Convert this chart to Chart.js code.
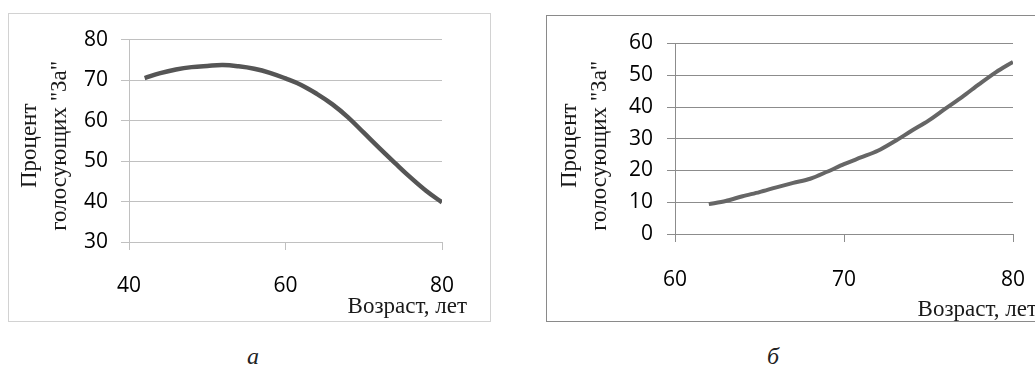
<!DOCTYPE html>
<html><head><meta charset="utf-8">
<script src="https://cdn.jsdelivr.net/npm/chart.js@4.4.0/dist/chart.umd.min.js"></script>
<style>
html,body{margin:0;padding:0;background:#fff;}
body{width:1035px;height:365px;overflow:hidden;position:relative;}
.box{position:absolute;box-sizing:border-box;background:#fff;}
#boxA{left:8px;top:13px;width:483px;height:309px;border:1px solid #d2d2d2;}
#boxB{left:546px;top:15px;width:510px;height:307px;border:1px solid #8a8a8a;}
.box canvas{position:absolute;left:0;top:0;}
.cap{position:absolute;top:344px;width:40px;text-align:center;font:italic 24px "Liberation Serif",serif;line-height:24px;color:#222;}
</style></head>
<body>
<div class="box" id="boxA"><canvas id="cA" width="481" height="307"></canvas></div>
<div class="box" id="boxB"><canvas id="cB" width="508" height="305"></canvas></div>
<div class="cap" style="left:233px">а</div>
<div class="cap" style="left:753px">б</div>
<script>
// ---- data (chart а) ----
const ageA = [42,44,46,48,50,52,54,56,58,60,62,64,66,68,70,72,74,76,78,80];
const pctA = [70.5,71.7,72.6,73.2,73.5,73.7,73.4,72.8,71.8,70.4,68.8,66.6,64.0,60.8,57.0,53.2,49.5,45.9,42.6,39.8];
const xTicksA = [40,60,80];
const yTicksA = [30,40,50,60,70,80];
// ---- data (chart б) ----
const ageB = [62,63,64,65,66,67,68,69,70,71,72,73,74,75,76,77,78,79,80];
const pctB = [9.4,10.4,11.9,13.2,14.7,16.1,17.4,19.6,22.0,24.1,26.2,29.2,32.5,35.7,39.5,43.2,47.2,51.0,54.2];
const xTicksB = [60,70,80];
const yTicksB = [0,10,20,30,40,50,60];
// ---- texts ----
const yTitle = ['Процент', 'голосующих "За"'];
const xTitleA = 'Возраст, лет';
const xTitleB = 'Возраст, лет';

const SERIF_CSS = '"Liberation Serif", "Times New Roman", serif';

// Axis titles drawn next to the library's own scales
const axisTitlePlugin = {
  id: 'axisTitles',
  afterDraw(chart, args, o) {
    const ctx = chart.ctx, sx = chart.scales.x, sy = chart.scales.y;
    ctx.save();
    ctx.font = o.size + 'px ' + SERIF_CSS;
    ctx.fillStyle = o.color;
    ctx.textAlign = 'right'; ctx.textBaseline = 'alphabetic';
    ctx.fillText(o.xText, sx.right + o.xDx, sx.bottom - o.xDy);
    const cy = (sy.top + sy.bottom) / 2 + o.yDy;
    ctx.textAlign = 'center'; ctx.textBaseline = 'middle';
    o.yText.forEach((line, i) => {
      ctx.save();
      ctx.translate(sy.left + o.yX + i * o.yLine, cy);
      ctx.rotate(-Math.PI / 2);
      ctx.fillText(line, 0, 0);
      ctx.restore();
    });
    ctx.restore();
  }
};

function makeChart(id, ages, vals, xt, yt, cfg) {
  const tickFont = {family: 'Open Sans', size: 21};
  return new Chart(document.getElementById(id), {
    type: 'line',
    data: { datasets: [{
      data: ages.map((a, i) => ({x: a, y: vals[i]})),
      borderColor: cfg.lineColor, borderWidth: cfg.lineWidth,
      pointRadius: 0, tension: cfg.tension, fill: false, borderCapStyle: 'butt'
    }]},
    options: {
      responsive: false, animation: false, events: [],
      layout: {padding: {left: 0, top: cfg.padTop, right: cfg.padRight, bottom: 0}},
      plugins: {legend: {display: false}, tooltip: {enabled: false},
        axisTitles: {xText: cfg.xTitle, yText: yTitle, size: 23, color: '#1a1a1a',
          xDx: cfg.titleDx, xDy: cfg.titleDy, yX: cfg.yTitleX, yLine: 30, yDy: cfg.yTitleDy}},
      scales: {
        x: {
          type: 'linear', min: xt[0], max: xt[xt.length-1],
          afterBuildTicks: s => { s.ticks = xt.map(v => ({value: v})); },
          afterFit: s => { s.height = cfg.xH; },
          grid: {drawOnChartArea: false, drawTicks: true, tickLength: 8, color: cfg.gridColor, lineWidth: 1},
          border: {display: true, color: cfg.gridColor, width: 1},
          ticks: {font: tickFont, color: '#000', padding: cfg.xPad, maxRotation: 0}
        },
        y: {
          type: 'linear', min: yt[0], max: yt[yt.length-1],
          afterBuildTicks: s => { s.ticks = yt.map(v => ({value: v})); },
          afterFit: s => { s.width = cfg.yW; },
          grid: {color: cfg.gridColor, tickLength: 8, lineWidth: 1},
          border: {display: true, color: cfg.gridColor, width: 1},
          ticks: {font: tickFont, color: '#000', padding: cfg.yPad},
          title: {display: false}
        }
      }
    },
    plugins: [axisTitlePlugin]
  });
}

makeChart('cA', ageA, pctA, xTicksA, yTicksA, {
  lineColor: '#555555', lineWidth: 4.5, tension: 0.4, gridColor: '#c0c0c0',
  padTop: 15, padRight: 48, xH: 79, yW: 120, xPad: 23, yPad: 13,
  xTitle: xTitleA, titleDx: 25, titleDy: 8, yTitleX: 21, yTitleDy: 5
});
makeChart('cB', ageB, pctB, xTicksB, yTicksB, {
  lineColor: '#666666', lineWidth: 4, tension: 0.3, gridColor: '#8c8c8c',
  padTop: 27.5, padRight: 42, xH: 87, yW: 128, xPad: 25, yPad: 14,
  xTitle: xTitleB, titleDx: 24, titleDy: 5, yTitleX: 23, yTitleDy: 7
});
</script>
</body></html>
